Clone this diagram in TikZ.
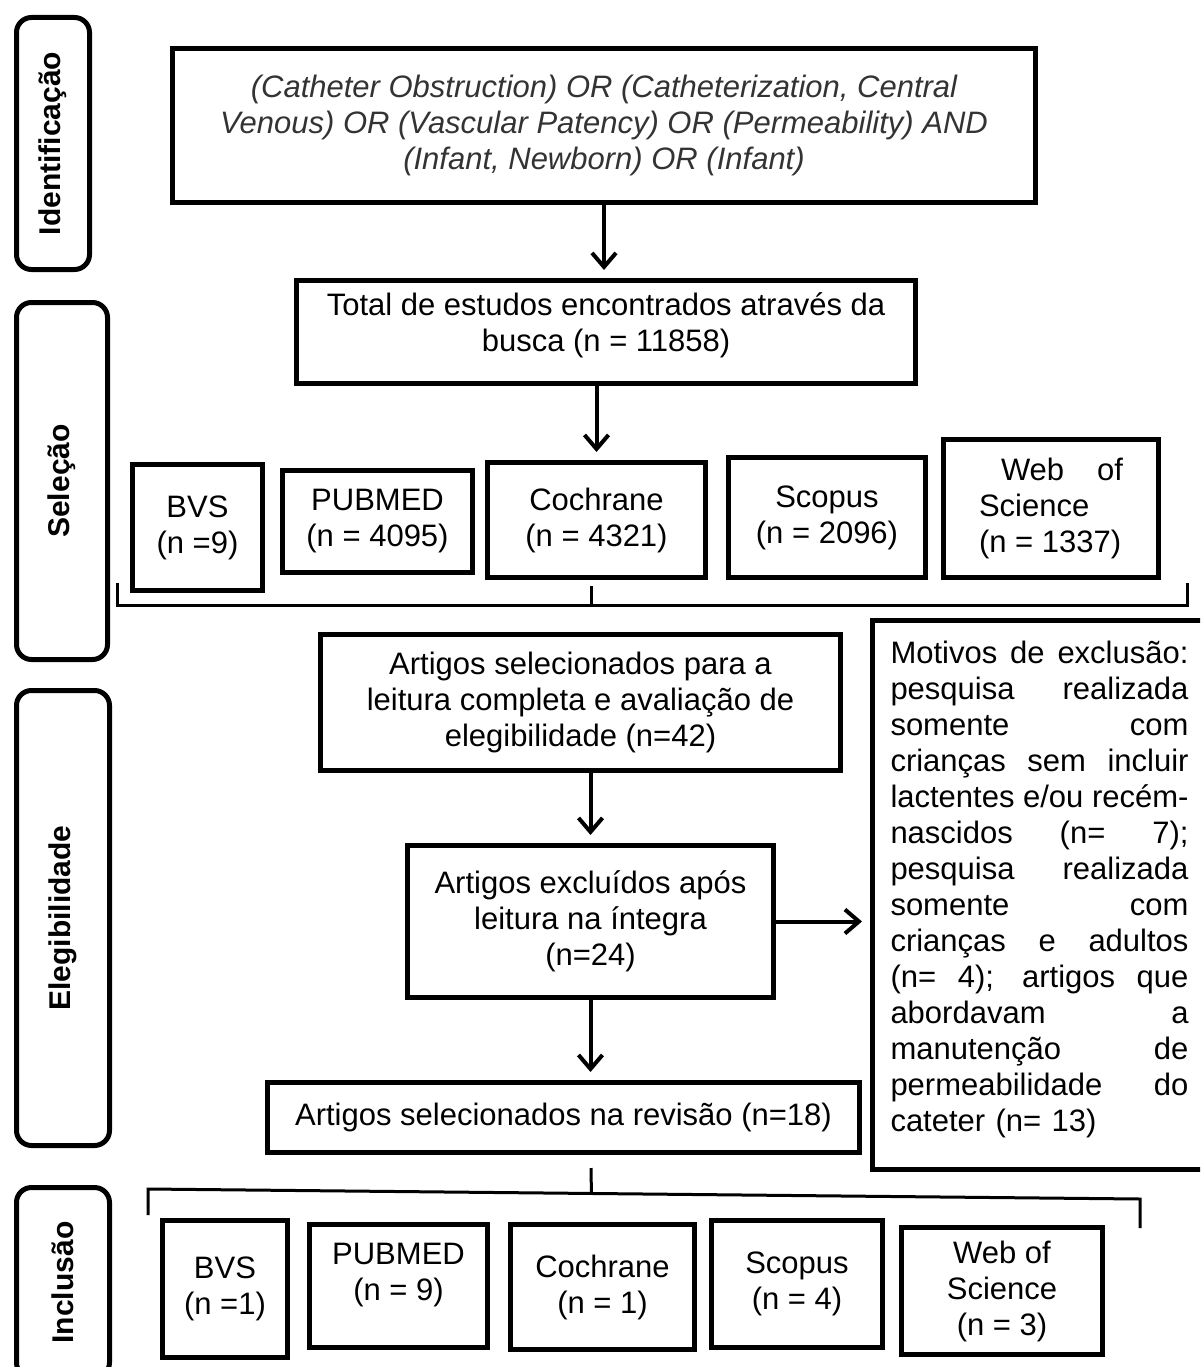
\documentclass[tikz,border=0pt]{standalone}
\usepackage{fontspec}
\setmainfont{Liberation Sans}
\usetikzlibrary{arrows.meta,calc,positioning}

\newcommand{\boxfont}{\fontsize{31}{36}\selectfont}
\newcommand{\sidefont}{\fontsize{30}{36}\selectfont\bfseries}
\newcommand{\jl}[1]{\makebox[298pt][s]{\spaceskip=0.278em plus 20em minus 0.1em\relax #1}}
\newcommand{\lift}[1]{\rule[-#1]{0pt}{0pt}}

\begin{document}
\begin{tikzpicture}[x=1pt, y=-1pt,
		box/.style={draw, line width=5pt, inner sep=0pt, align=center, font=\boxfont},
		side/.style={draw, line width=5pt, rounded corners=15pt, rotate=90, inner sep=0pt, font=\sidefont},
		flow/.style={line width=4pt, -{Straight Barb[length=14pt,width=24pt]}, shorten >=8pt},
		brace/.style={line width=3pt}
		]
	
		\useasboundingbox (0,0) rectangle (1200,1367);
		\clip (0,0) rectangle (1200,1367);
	
		% Etapas
		\node[side, minimum width=252, minimum height=73] (ident) at (53,143.5) {Identificação};
		\node[side, minimum width=357, minimum height=91] (selec) at (62,481) {Seleção};
		\node[side, minimum width=455, minimum height=93] (elegi) at (63,918) {Elegibilidade};
		\node[side, minimum width=190, minimum height=93] (inclu) at (63,1282.5) {Inclusão};
	
		% Busca
		\node[box, minimum width=863, minimum height=154, text=black!80, font=\boxfont\itshape] (query) at (604,125.5) {(Catheter Obstruction) OR (Catheterization, Central\\Venous) OR (Vascular Patency) OR (Permeability) AND\\(Infant, Newborn) OR (Infant)};
		\node[box, minimum width=619, minimum height=103] (total) at (606,332) {Total de estudos encontrados através da\\busca (n = 11858)\lift{20pt}};
	
		\node[box, minimum width=130, minimum height=126] (bvs1) at (197.5,527.5) {BVS\\(n =9)};
		\node[box, minimum width=190, minimum height=102] (pub1) at (377.5,521.5) {PUBMED\\(n = 4095)};
		\node[box, minimum width=218, minimum height=115] (coch1) at (596.5,520) {Cochrane\\(n = 4321)};
		\node[box, minimum width=197, minimum height=120] (scop1) at (827,517.5) {Scopus\\(n = 2096)};
		\node[box, minimum width=215, minimum height=138, align=left] (wos1) at (1051,508.5) {\hspace*{22pt}\makebox[122pt][s]{Web of}\\Science\\(n = 1337)};
	
		\draw[flow] (query.south) -- (query.south |- total.north);
		\draw[flow] (coch1.north |- total.south) -- (coch1.north);
	
		\coordinate (b1l) at (117,605);
		\coordinate (b1r) at (1187,605);
		\coordinate (b1c) at (591,605);
		\draw[brace] ([yshift=22pt]b1l) -- (b1l) -- (b1r) -- ([yshift=22pt]b1r);
		\draw[brace, shorten >=6pt] (b1c) -- (b1c |- coch1.south);
	
		% Elegibilidade
		\node[box, minimum width=520, minimum height=136] (elig) at (580.5,702.5) {Artigos selecionados para a\\leitura completa e avaliação de\\elegibilidade (n=42)};
		\node[box, minimum width=366, minimum height=152] (excl) at (590.5,921.5) {Artigos excluídos após\\leitura na íntegra\\(n=24)};
		\node[box, minimum width=334, minimum height=549, align=left, text width=298pt] (reason) at (1039.5,895) {\jl{Motivos de exclusão:}\\\jl{pesquisa realizada}\\\jl{somente com}\\\jl{crianças sem incluir}\\\jl{lactentes e/ou recém-}\\\jl{nascidos (n= 7);}\\\jl{pesquisa realizada}\\\jl{somente com}\\\jl{crianças e adultos}\\\jl{(n= 4); artigos que}\\\jl{abordavam a}\\\jl{manutenção de}\\\jl{permeabilidade do}\\cateter (n= 13)\lift{18pt}};
		\node[box, minimum width=592, minimum height=70] (final) at (563.5,1117.5) {Artigos selecionados na revisão (n=18)};
	
		\draw[flow] (elig.south -| excl.north) -- (excl.north);
		\draw[flow] (excl.east) -- (excl.east -| reason.west);
		\draw[flow] (excl.south) -- (excl.south |- final.north);
	
		% Inclusao
		\coordinate (t2) at (591,1168);
		\coordinate (b2l) at (148,1189);
		\coordinate (b2r) at (1140,1199);
		\draw[brace] ([yshift=-26pt]b2l) -- (b2l) -- (b2r) -- ([yshift=-29pt]b2r);
		\draw[brace] (t2) -- ($(b2l)!0.447!(b2r)$);
	
		\node[box, minimum width=125, minimum height=137] (bvs2) at (225,1289) {BVS\\(n =1)};
		\node[box, minimum width=178, minimum height=123] (pub2) at (398.5,1286) {PUBMED\\(n = 9)\lift{28pt}};
		\node[box, minimum width=184, minimum height=125] (coch2) at (602.5,1287) {Cochrane\\(n = 1)};
		\node[box, minimum width=171, minimum height=127] (scop2) at (797,1284) {Scopus\\(n = 4)};
		\node[box, minimum width=201, minimum height=127] (wos2) at (1002,1291) {Web of\\Science\\(n = 3)};
	\end{tikzpicture}
\end{document}
